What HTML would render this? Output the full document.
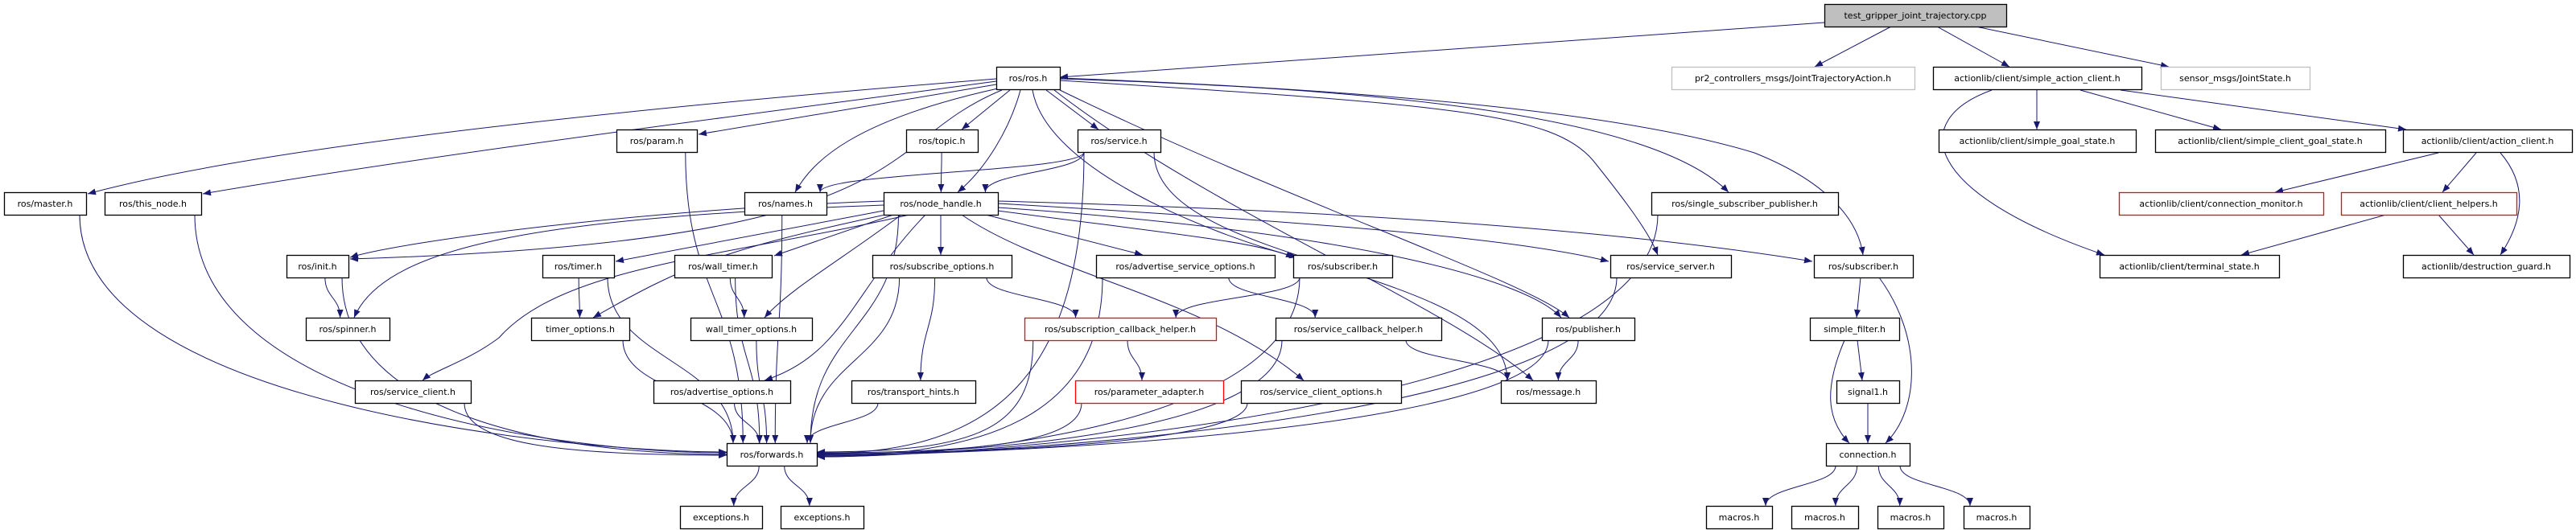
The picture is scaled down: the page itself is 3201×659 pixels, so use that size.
<!DOCTYPE html>
<html><head><meta charset="utf-8">
<style>
html,body{margin:0;padding:0;background:#fff;}
svg{display:block;}
text{font-family:"DejaVu Sans","Liberation Sans",sans-serif;font-size:11px;text-anchor:middle;fill:#000;}
</style></head>
<body>
<svg id="g" width="3201" height="659" viewBox="0 0 3201 659" xmlns="http://www.w3.org/2000/svg">
<defs>
<marker id="a" markerWidth="10" markerHeight="8" refX="10" refY="4" orient="auto" markerUnits="userSpaceOnUse">
<path d="M0,0 L10,4 L0,8 z" fill="#191970"/>
</marker>
</defs>
<g id="edges" fill="none" stroke="#191970" stroke-width="1"></g>
<g id="nodes"></g>
<g id="labels">
<text x="2380" y="23">test_gripper_joint_trajectory.cpp</text>
<text x="1277.5" y="101">ros/ros.h</text>
<text x="2228" y="101">pr2_controllers_msgs/JointTrajectoryAction.h</text>
<text x="2531.5" y="101">actionlib/client/simple_action_client.h</text>
<text x="2777.5" y="101">sensor_msgs/JointState.h</text>
<text x="816" y="179">ros/param.h</text>
<text x="1170.5" y="179">ros/topic.h</text>
<text x="1390.5" y="179">ros/service.h</text>
<text x="2531.5" y="179">actionlib/client/simple_goal_state.h</text>
<text x="2821" y="179">actionlib/client/simple_client_goal_state.h</text>
<text x="3091" y="179">actionlib/client/action_client.h</text>
<text x="56" y="257">ros/master.h</text>
<text x="190" y="257">ros/this_node.h</text>
<text x="976" y="257">ros/names.h</text>
<text x="1169" y="257">ros/node_handle.h</text>
<text x="2168" y="257">ros/single_subscriber_publisher.h</text>
<text x="2760" y="257">actionlib/client/connection_monitor.h</text>
<text x="3018" y="257">actionlib/client/client_helpers.h</text>
<text x="394.5" y="335">ros/init.h</text>
<text x="718.5" y="335">ros/timer.h</text>
<text x="898.5" y="335">ros/wall_timer.h</text>
<text x="1170.5" y="335">ros/subscribe_options.h</text>
<text x="1473" y="335">ros/advertise_service_options.h</text>
<text x="1668.5" y="335">ros/subscriber.h</text>
<text x="2076" y="335">ros/service_server.h</text>
<text x="2315.5" y="335">ros/subscriber.h</text>
<text x="2720.5" y="335">actionlib/client/terminal_state.h</text>
<text x="3089.5" y="335">actionlib/destruction_guard.h</text>
<text x="432" y="413">ros/spinner.h</text>
<text x="721" y="413">timer_options.h</text>
<text x="933.5" y="413">wall_timer_options.h</text>
<text x="1392" y="413">ros/subscription_callback_helper.h</text>
<text x="1688" y="413">ros/service_callback_helper.h</text>
<text x="1973.5" y="413">ros/publisher.h</text>
<text x="2304.5" y="413">simple_filter.h</text>
<text x="513" y="491">ros/service_client.h</text>
<text x="897" y="491">ros/advertise_options.h</text>
<text x="1135" y="491">ros/transport_hints.h</text>
<text x="1428" y="491">ros/parameter_adapter.h</text>
<text x="1641.5" y="491">ros/service_client_options.h</text>
<text x="1924" y="491">ros/message.h</text>
<text x="2321" y="491">signal1.h</text>
<text x="959" y="569">ros/forwards.h</text>
<text x="2321" y="569">connection.h</text>
<text x="896" y="647">exceptions.h</text>
<text x="1021.5" y="647">exceptions.h</text>
<text x="2161" y="647">macros.h</text>
<text x="2267.5" y="647">macros.h</text>
<text x="2374" y="647">macros.h</text>
<text x="2481" y="647">macros.h</text>
</g>
</svg>
<script>
(function(){
var N={
T:[2267,2493,0,'root'],ros:[1238,1317,1],pr2:[2077,2379,1,'gray'],sac:[2402,2661,1],sensor:[2685,2870,1,'gray'],
param:[766,866,2],topic:[1126,1215,2],service:[1339,1442,2],sgs:[2409,2654,2],scgs:[2678,2964,2],ac:[2986,3196,2],
master:[5,107,3],thisnode:[130,250,3],names:[925,1027,3],nh:[1098,1240,3],ssp:[2052,2284,3],cm:[2633,2887,3,'red'],ch:[2909,3127,3,'red'],
init:[356,433,4],timer:[674,763,4],wtimer:[838,959,4],subopt:[1084,1257,4],asopt:[1362,1584,4],subscriber:[1607,1730,4],sserver:[2001,2151,4],rsub:[2254,2377,4],term:[2609,2832,4],dg:[2986,3193,4],
spinner:[380,484,5],topt:[660,782,5],wtopt:[858,1009,5],sch:[1273,1511,5,'red'],svch:[1585,1791,5],pub:[1916,2031,5],sf:[2249,2360,5],
sclient:[441,585,6],aopt:[812,982,6],th:[1058,1212,6],pa:[1336,1520,6,'red'],sco:[1542,1741,6],msg:[1865,1983,6],sig:[2282,2360,6],
fwd:[903,1015,7],conn:[2269,2373,7],
exc1:[845,947,8],exc2:[970,1073,8],m1:[2120,2202,8],m2:[2226,2309,8],m3:[2333,2415,8],m4:[2440,2522,8]};
var H=28;function rowTop(r){return 5+78*r;}
var OV={
'rsub>conn':'M2335,345 C2390,420 2385,510 2343,551',
'rsub>sf':'M2312,345 L2307,395',
'sf>conn':'M2292,423 C2268,480 2268,520 2298,551',
'sf>sig':'M2308,423 L2314,473',
'sig>conn':'M2321,501 L2321,551',
'sac>term':'M2475,112 C2370,150 2390,240 2615,317',
'sac>sgs':'M2531,112 L2531,161',
'sac>scgs':'M2585,112 L2760,161',
'sac>ac':'M2635,112 L2990,161',
'ac>dg':'M3107,190 C3150,240 3125,290 3107,317',
'ac>cm':'M3030,190 L2827,239',
'ac>ch':'M3077,190 L3035,239',
'ch>term':'M2965,267 L2785,317',
'ch>dg':'M3030,267 L3074,317',
'T>ros':'M2267,28 L1317,96',
'T>pr2':'M2350,33 L2255,83',
'T>sac':'M2407,33 L2497,83',
'T>sensor':'M2455,33 L2695,83',
'ros>master':'M1238,98 C900,125 350,175 109,241',
'ros>thisnode':'M1238,101 C950,140 550,190 252,241',
'ros>param':'M1238,105 L868,167',
'ros>names':'M1240,110 C1060,150 1010,200 988,239',
'ros>init':'M1245,112 C1080,180 1160,300 435,322',
'ros>nh':'M1268,112 C1255,160 1225,210 1190,239',
'ros>topic':'M1255,112 L1195,161',
'ros>service':'M1300,112 L1365,161',
'ros>subscriber':'M1283,112 C1300,210 1500,290 1612,320',
'ros>pub':'M1317,112 C1600,250 1900,350 1950,395',
'ros>msg':'M1310,112 C1500,260 1800,380 1905,473',
'ros>sserver':'M1317,100 C1800,130 1930,140 1980,200 C2020,250 2050,290 2060,317',
'ros>ssp':'M1317,98 C1700,110 2050,140 2148,239',
'ros>rsub':'M1317,97 C1800,115 2050,150 2180,190 C2280,230 2310,280 2315,317',
'nh>init':'M1098,250 C800,260 500,300 435,320',
'nh>spinner':'M1098,255 C700,270 480,300 440,395',
'nh>timer':'M1098,262 L765,325',
'nh>topt':'M1100,267 C900,310 850,330 737,395',
'nh>wtimer':'M1110,267 L962,318',
'nh>wtopt':'M1120,267 C1050,320 980,360 950,395',
'nh>sclient':'M1130,267 C900,320 700,330 620,420 C580,450 540,460 525,473',
'nh>aopt':'M1150,267 C1060,360 1050,440 950,473',
'nh>subopt':'M1169,267 L1169,317',
'nh>asopt':'M1225,267 L1420,317',
'nh>subscriber':'M1240,262 C1450,290 1560,300 1608,320',
'nh>sserver':'M1240,253 C1700,280 1900,300 1999,325',
'nh>rsub':'M1240,250 C1800,265 2100,300 2252,325',
'nh>pub':'M1240,258 C1700,290 1900,350 1940,395',
'nh>sco':'M1195,267 C1300,340 1500,370 1620,473'
};
var E=[['T','ros'],['T','pr2'],['T','sac'],['T','sensor'],
['ros','master'],['ros','thisnode'],['ros','param'],['ros','names'],['ros','nh'],['ros','topic'],['ros','service'],['ros','init'],['ros','subscriber'],['ros','pub'],['ros','msg'],['ros','sserver'],['ros','ssp'],['ros','rsub'],
['param','fwd'],['master','fwd'],['thisnode','fwd'],['names','fwd'],['topic','nh'],['service','nh'],['service','names'],['service','msg'],['service','fwd'],
['nh','init'],['nh','spinner'],['nh','timer'],['nh','topt'],['nh','wtimer'],['nh','wtopt'],['nh','sclient'],['nh','aopt'],['nh','subopt'],['nh','asopt'],['nh','subscriber'],['nh','sserver'],['nh','pub'],['nh','sco'],['nh','rsub'],['nh','fwd'],
['init','spinner'],['init','fwd'],['timer','topt'],['timer','fwd'],['wtimer','wtopt'],['wtimer','fwd'],['topt','fwd'],['wtopt','fwd'],['sclient','fwd'],['aopt','fwd'],
['subopt','th'],['subopt','sch'],['subopt','fwd'],['th','fwd'],['asopt','svch'],['asopt','fwd'],['subscriber','sch'],['subscriber','fwd'],['sch','pa'],['sch','fwd'],['pa','fwd'],['sco','fwd'],
['svch','msg'],['svch','fwd'],['pub','msg'],['pub','fwd'],['sserver','fwd'],['ssp','fwd'],['fwd','exc1'],['fwd','exc2'],
['sac','term'],['sac','sgs'],['sac','scgs'],['sac','ac'],['ac','cm'],['ac','ch'],['ac','dg'],['ch','term'],['ch','dg'],
['rsub','sf'],['rsub','conn'],['sf','sig'],['sf','conn'],['sig','conn'],['conn','m1'],['conn','m2'],['conn','m3'],['conn','m4']];
var ns='http://www.w3.org/2000/svg';
var eg=document.getElementById('edges'),ng=document.getElementById('nodes');
function cx(n){return (n[0]+n[1])/2;}
function cl(v,a,b){return Math.max(a,Math.min(b,v));}
var i=0;
E.forEach(function(e){
 var s=N[e[0]],t=N[e[1]];
 var sc=cx(s),tc=cx(t);
 var d=OV[e[0]+'>'+e[1]];
 if(!d){
 var sx=cl(sc+(tc-sc)*0.25,s[0]+8,s[1]-8),sy=rowTop(s[2])+H;
 if(e[1]=='fwd' && Math.abs(sc-tc)>250){
   var left=sc<tc; var ex=left?t[0]:t[1]; var ey=562+((i++)%7);
   d='M'+sx+','+sy+' C'+sx+','+(sy+(ey-sy)*0.8)+' '+(left?ex-200:ex+200)+','+ey+' '+ex+','+ey;
 } else {
   var tx=cl(tc+(sc-tc)*0.25,t[0]+8,t[1]-8),ty=rowTop(t[2]);
   var my=(ty-sy)*0.5;
   d='M'+sx+','+sy+' C'+sx+','+(sy+my)+' '+tx+','+(ty-my)+' '+tx+','+ty;
 }}
 var p=document.createElementNS(ns,'path');p.setAttribute('d',d);p.setAttribute('marker-end','url(#a)');eg.appendChild(p);
});
for(var k in N){var n=N[k];var r=document.createElementNS(ns,'rect');
 r.setAttribute('x',n[0]+0.5);r.setAttribute('y',rowTop(n[2])+0.5);r.setAttribute('width',n[1]-n[0]);r.setAttribute('height',H);
 var f='#fff',st='#000';if(n[3]=='root')f='#bfbfbf';if(n[3]=='gray')st='#bfbfbf';if(n[3]=='red')st='#ff0000';
 r.setAttribute('fill',f);r.setAttribute('stroke',st);r.setAttribute('stroke-width','1.3');ng.appendChild(r);}
})();
</script>
</body></html>
